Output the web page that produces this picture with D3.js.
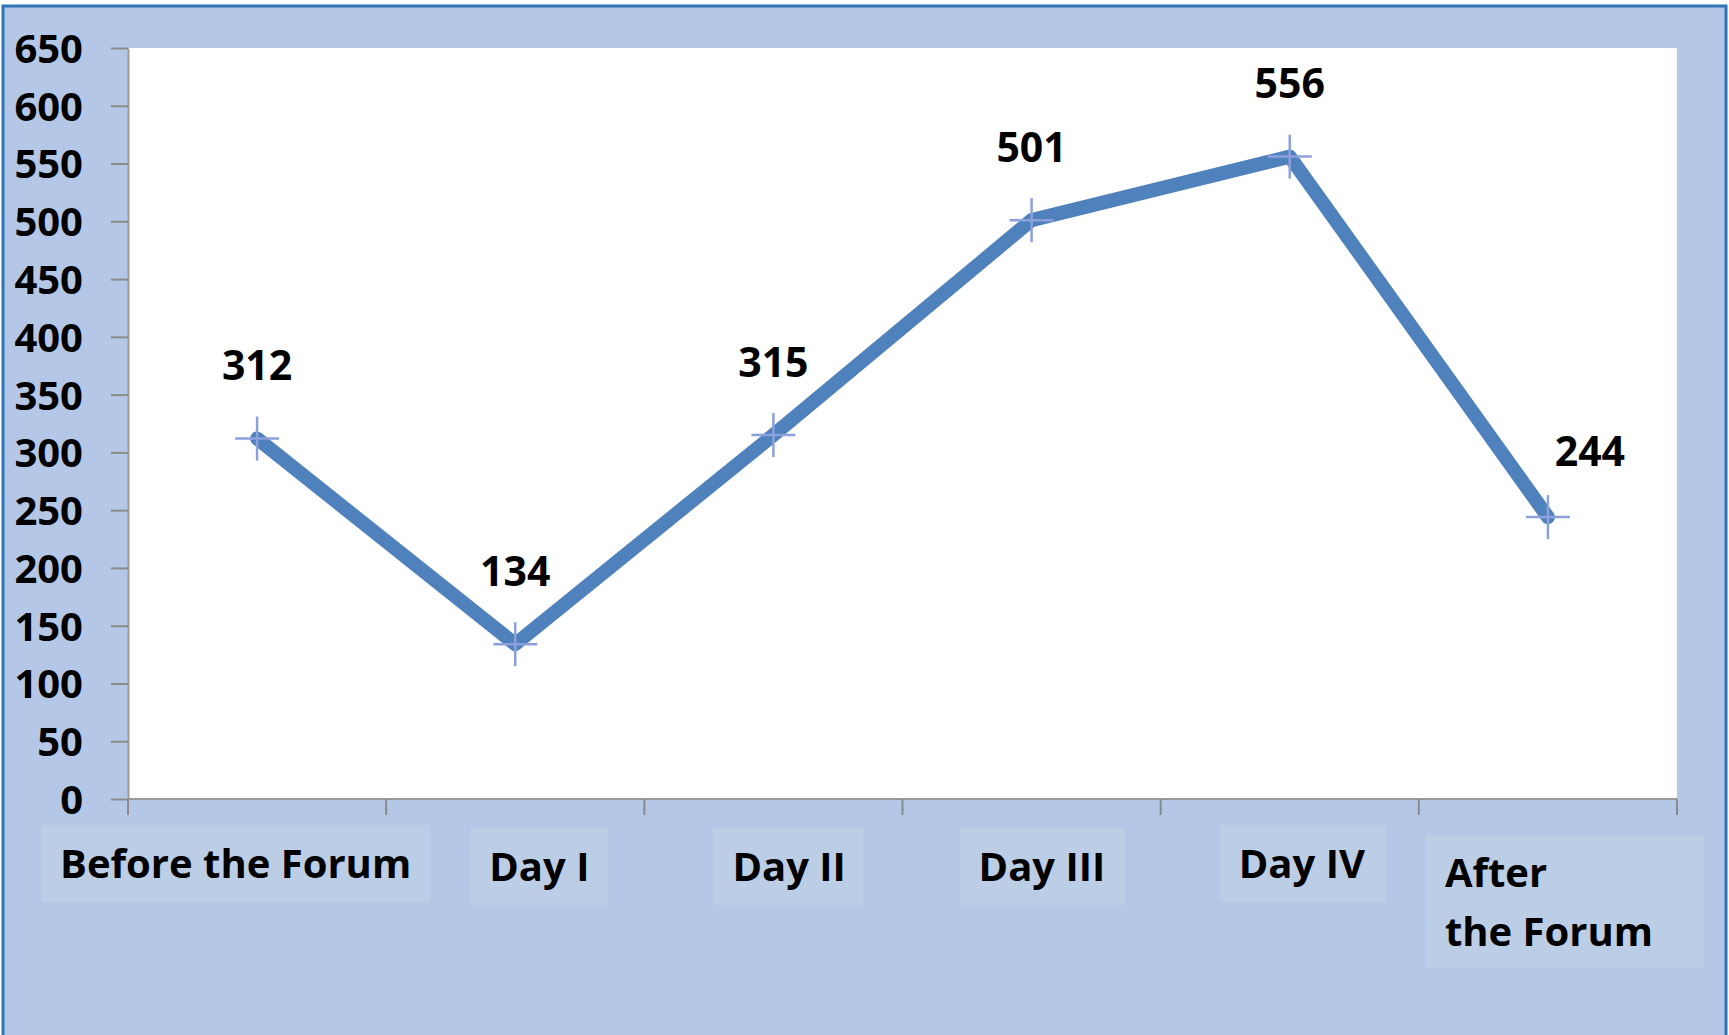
<!DOCTYPE html>
<html>
<head>
<meta charset="utf-8">
<script src="https://cdn.jsdelivr.net/npm/d3@7"></script>
<style>
  html, body { margin: 0; padding: 0; background: #ffffff; }
  svg { display: block; }
</style>
</head>
<body>
<svg id="chart" width="1729" height="1035"></svg>
<script>
// chart data
var categories = ["Before the Forum", "Day I", "Day II", "Day III", "Day IV", "After the Forum"];
var labelLines = [["Before the Forum"], ["Day I"], ["Day II"], ["Day III"], ["Day IV"], ["After", "the Forum"]];
var values = [312, 134, 315, 501, 556, 244];
var yTicks = [0, 50, 100, 150, 200, 250, 300, 350, 400, 450, 500, 550, 600, 650];

// label box layout (offsets from band centre), these are hand placed text boxes in the original
var boxLayout = [
  {dx: -216, w: 389, top: 825, h: 77},
  {dx: -45, w: 138, top: 828, h: 77},
  {dx: -60, w: 150, top: 828, h: 77},
  {dx: -72, w: 165, top: 828, h: 77},
  {dx: -70, w: 166, top: 825, h: 77},
  {dx: -122, w: 278, top: 835, h: 133}
];

var svg = d3.select("#chart");
var svgWidth = +svg.attr("width");
var svgHeight = +svg.attr("height");

var plot = {l: 128, r: 1677, t: 48, b: 799};
var font = "'Open Sans', sans-serif";

// outer frame
svg.append("rect")
  .attr("x", 3).attr("y", 6)
  .attr("width", svgWidth - 6).attr("height", svgHeight + 20)
  .attr("fill", "#b4c7e7")
  .attr("stroke", "#2e75b6")
  .attr("stroke-width", 3);

// plot area
svg.append("rect")
  .attr("x", plot.l).attr("y", plot.t)
  .attr("width", plot.r - plot.l).attr("height", plot.b - plot.t)
  .attr("fill", "#ffffff");

var x = d3.scaleBand()
  .domain(categories)
  .range([plot.l, plot.r])
  .padding(0);

var y = d3.scaleLinear()
  .domain([0, 650])
  .range([plot.b, plot.t]);

// y axis
var yAxis = svg.append("g")
  .attr("transform", "translate(" + plot.l + ",0)")
  .call(d3.axisLeft(y).tickValues(yTicks).tickSize(17).tickPadding(28).tickSizeOuter(0));
yAxis.select(".domain").attr("stroke", "#9a9a9a").attr("stroke-width", 2);
yAxis.selectAll(".tick line").attr("stroke", "#8a8a8a").attr("stroke-width", 2);
yAxis.selectAll(".tick text")
  .attr("font-family", font)
  .attr("font-size", 40)
  .attr("font-weight", 700)
  .attr("fill", "#000")
  .attr("dy", "0.36em");

// x axis, ticks between categories
var xEdges = categories.map(function(c) { return x(c); }).concat([plot.r]);
svg.append("line")
  .attr("x1", plot.l).attr("x2", plot.r)
  .attr("y1", plot.b).attr("y2", plot.b)
  .attr("stroke", "#9a9a9a").attr("stroke-width", 2);
svg.selectAll(".xtick")
  .data(xEdges)
  .enter()
  .append("line")
  .attr("class", "xtick")
  .attr("x1", function(d) { return d; })
  .attr("x2", function(d) { return d; })
  .attr("y1", plot.b)
  .attr("y2", plot.b + 16)
  .attr("stroke", "#8a8a8a")
  .attr("stroke-width", 2);

// category label boxes
var lab = svg.selectAll(".catlabel")
  .data(categories)
  .enter()
  .append("g")
  .attr("class", "catlabel")
  .attr("transform", function(d, i) {
    var cx = x(d) + x.bandwidth() / 2;
    return "translate(" + (cx + boxLayout[i].dx) + "," + boxLayout[i].top + ")";
  });

lab.append("rect")
  .attr("width", function(d, i) { return boxLayout[i].w; })
  .attr("height", function(d, i) { return boxLayout[i].h; })
  .attr("fill", "#bccde6");

lab.each(function(d, i) {
  var g = d3.select(this);
  labelLines[i].forEach(function(line, j) {
    g.append("text")
      .attr("x", 19)
      .attr("y", (i == 5 ? 38 : 39) + j * 59)
      .attr("dy", "0.36em")
      .attr("font-family", font)
      .attr("font-size", 40)
      .attr("font-weight", 700)
      .attr("fill", "#000")
      .text(line);
  });
});

// the series line
var pts = categories.map(function(c, i) { return {cat: c, v: values[i]}; });

var line = d3.line()
  .x(function(d) { return x(d.cat) + x.bandwidth() / 2; })
  .y(function(d) { return y(d.v); });

svg.append("path")
  .datum(pts)
  .attr("d", line)
  .attr("fill", "none")
  .attr("stroke", "#4f81bd")
  .attr("stroke-width", 14)
  .attr("stroke-linejoin", "round")
  .attr("stroke-linecap", "round");

// plus markers
var mk = svg.selectAll(".marker")
  .data(pts)
  .enter()
  .append("g")
  .attr("class", "marker")
  .attr("transform", function(d) {
    return "translate(" + (x(d.cat) + x.bandwidth() / 2) + "," + y(d.v) + ")";
  });
mk.append("line").attr("x1", -22).attr("x2", 22).attr("y1", 0).attr("y2", 0);
mk.append("line").attr("x1", 0).attr("x2", 0).attr("y1", -22).attr("y2", 22);
mk.selectAll("line")
  .attr("stroke", "#8ca1dc")
  .attr("stroke-width", 2.5);

// data labels
svg.selectAll(".vlabel")
  .data(pts)
  .enter()
  .append("text")
  .attr("class", "vlabel")
  .attr("x", function(d, i) { return x(d.cat) + x.bandwidth() / 2 + (i == 5 ? 42 : 0); })
  .attr("y", function(d, i) { return y(d.v) - (i == 5 ? 66 : 73); })
  .attr("dy", "0.36em")
  .attr("text-anchor", "middle")
  .attr("font-family", font)
  .attr("font-size", 41)
  .attr("font-weight", 700)
  .attr("fill", "#000")
  .text(function(d) { return d.v; });
</script>
</body>
</html>
